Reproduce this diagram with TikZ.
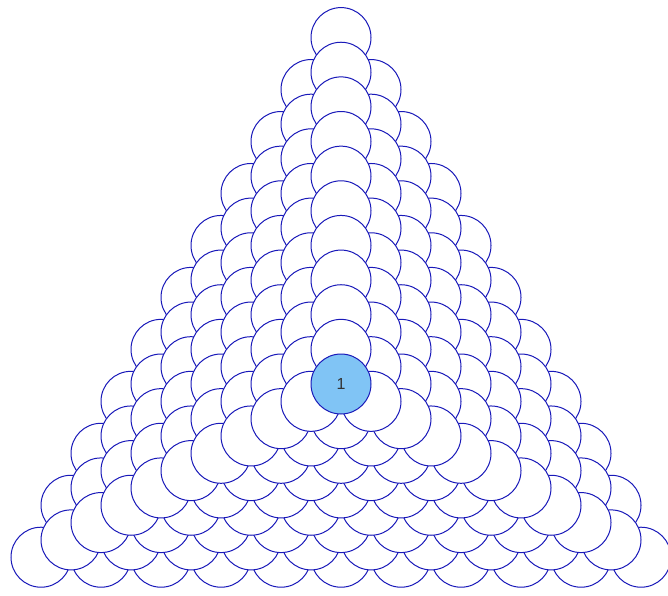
\documentclass[tikz,border=0pt]{standalone}
\usepackage{fontspec}
\setmainfont{Liberation Sans}
\definecolor{ballline}{RGB}{25,25,185}
\definecolor{apexfill}{RGB}{128,196,245}
\tikzset{ball/.style={draw=ballline, fill=white, line width=1pt}}

\begin{document}
\begin{tikzpicture}[x=1pt, y=-1pt]
    % --- parameters ---
    \def\N{10}     % bottom layer: N+1 balls per side
    \def\D{60}     % ball diameter
    \def\R{30}     % ball radius
    \def\Cx{341}   % centroid of the pile, seen from above
    \def\Cy{384}

    \useasboundingbox (0,0) rectangle (668,595);

    % --- layers, bottom to top ---
    \foreach \L in {0,...,9}{
        \pgfmathtruncatemacro{\m}{\N-\L}
        \foreach \r in {0,...,\m}{
            \pgfmathtruncatemacro{\k}{\m-\r}
            \foreach \i in {0,...,\k}{
                \draw[ball] ({\Cx-\D*\m/2+\D*\i+\D*\r/2}, {\Cy+\D*\m/(2*sqrt(3))-\D*sqrt(3)/2*\r}) circle (\R);
            }
        }
    }

    % --- top ball ---
    \node[ball, fill=apexfill, circle, minimum size=60pt, inner sep=0pt,
          text=black!80, font=\fontsize{16}{16}\selectfont] (apex) at (\Cx,\Cy) {1};
\end{tikzpicture}
\end{document}
